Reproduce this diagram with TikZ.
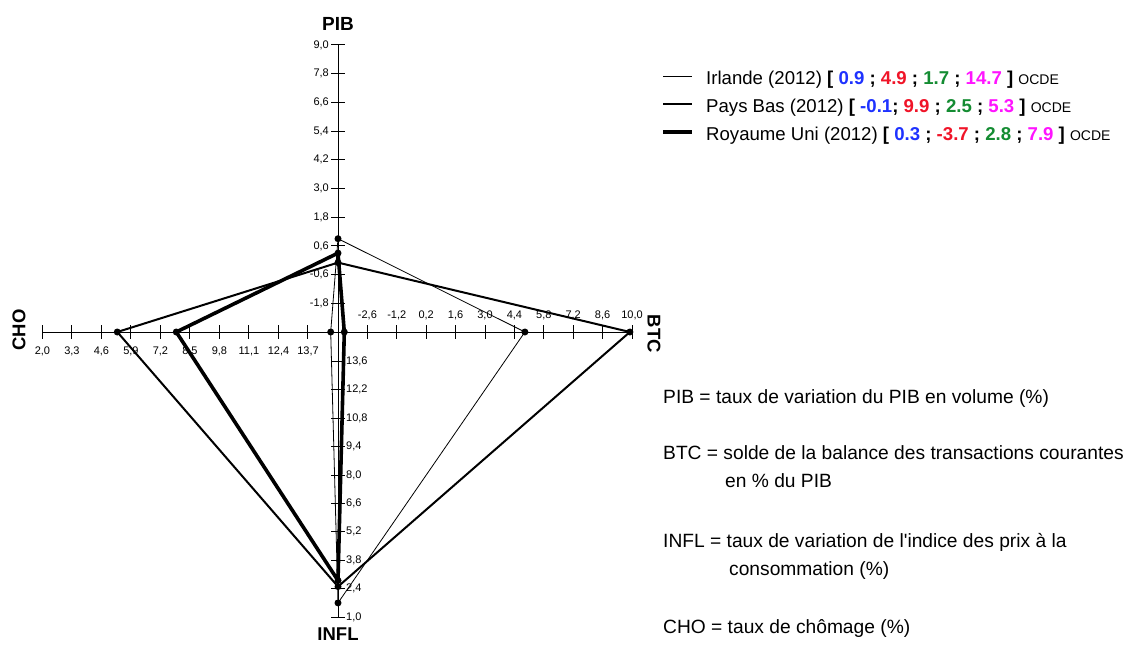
\documentclass[tikz,border=0pt]{standalone}
\usepackage{fontspec}
\setmainfont{Liberation Sans}
\newfontfamily\plainfont{Liberation Sans}
\definecolor{cblue}{RGB}{30,50,255}
\definecolor{cred}{RGB}{240,20,40}
\definecolor{cgreen}{RGB}{20,140,50}
\definecolor{cmag}{RGB}{255,20,255}
\begin{document}
\begin{tikzpicture}[x=1pt,y=-1pt,
  axis/.style={line width=1pt, black},
  ticklbl/.style={font=\fontsize{11}{12}\selectfont, inner sep=0pt},
  axlbl/.style={font=\bfseries\fontsize{18.5}{20}\selectfont, inner sep=0pt},
  txt/.style={font=\fontsize{19.2}{22}\selectfont, inner sep=0pt, anchor=base west},
  legtxt/.style={font=\fontsize{18.6}{22}\selectfont, inner sep=0pt, anchor=base west},
  thinl/.style={line width=0.8pt, line join=round},
  medl/.style={line width=2pt, line join=round},
  thickl/.style={line width=3.6pt, line join=round},
  dot/.style={circle, fill=black, inner sep=0pt, minimum size=7pt}]
\useasboundingbox (0,0) rectangle (1128,645);
\fill[white] (0,0) rectangle (1128,645);

% axes
\coordinate (ptop) at (338,45);
\coordinate (pbot) at (338,617);
\coordinate (cleft) at (42.4,332);
\coordinate (bright) at (632,332);
\draw[axis] (cleft) -- (bright);
\draw[axis] (ptop) -- (pbot);

% PIB ticks
\foreach \v/\l in {9.0/9{,}0, 7.8/7{,}8, 6.6/6{,}6, 5.4/5{,}4, 4.2/4{,}2, 3.0/3{,}0, 1.8/1{,}8, 0.6/0{,}6, -0.6/-0{,}6, -1.8/-1{,}8}{
  \pgfmathsetmacro\yy{332-(\v+3)*23.92}
  \draw[axis] (331,\yy) -- (345,\yy);
  \node[ticklbl, anchor=east] at (329,\yy) {\l};
}
% BTC ticks
\foreach \v/\l in {-2.6/-2{,}6, -1.2/-1{,}2, 0.2/0{,}2, 1.6/1{,}6, 3.0/3{,}0, 4.4/4{,}4, 5.8/5{,}8, 7.2/7{,}2, 8.6/8{,}6, 10.0/10{,}0}{
  \pgfmathsetmacro\xx{338+(\v+4)*21}
  \draw[axis] (\xx,325) -- (\xx,339);
  \node[ticklbl, anchor=south] at (\xx,320) {\l};
}
% CHO ticks
\foreach \v/\l in {2.0/2{,}0, 3.3/3{,}3, 4.6/4{,}6, 5.9/5{,}9, 7.2/7{,}2, 8.5/8{,}5, 9.8/9{,}8, 11.1/11{,}1, 12.4/12{,}4, 13.7/13{,}7}{
  \pgfmathsetmacro\xx{337.5-(15-\v)*22.7}
  \draw[axis] (\xx,325) -- (\xx,339);
  \node[ticklbl, anchor=north] at (\xx,347) {\l};
}
% INFL ticks
\foreach \v/\l in {13.6/13{,}6, 12.2/12{,}2, 10.8/10{,}8, 9.4/9{,}4, 8.0/8{,}0, 6.6/6{,}6, 5.2/5{,}2, 3.8/3{,}8, 2.4/2{,}4, 1.0/1{,}0}{
  \pgfmathsetmacro\yy{333+(15-\v)*20.29}
  \draw[axis] (331,\yy) -- (345,\yy);
  \node[ticklbl, anchor=west] at (346,\yy) {\l};
}

% axis labels
\node[axlbl, font=\bfseries\fontsize{19}{21}\selectfont] (lPIB) at (338,24) {PIB};
\node[axlbl, rotate=-90] (lBTC) at (654,334) {BTC};
\node[axlbl, rotate=90] (lCHO) at (19,330) {CHO};
\node[axlbl, anchor=north] (lINFL) at (338,628) {INFL};

% data points
\coordinate (irP) at (338,238.7);
\coordinate (irB) at (524.9,332);
\coordinate (irI) at (338,602.9);
\coordinate (irC) at (330.7,332);
\coordinate (pbP) at (338,262.6);
\coordinate (pbB) at (629.9,332);
\coordinate (pbI) at (338,586.6);
\coordinate (pbC) at (117.3,332);
\coordinate (ruP) at (338,253.1);
\coordinate (ruB) at (344.3,332);
\coordinate (ruI) at (338,580.5);
\coordinate (ruC) at (176.3,332);

\draw[thinl] (irP) -- (irB) -- (irI) -- (irC) -- cycle;
\draw[medl] (pbP) -- (pbB) -- (pbI) -- (pbC) -- cycle;
\draw[thickl] (ruP) -- (ruB) -- (ruI) -- (ruC) -- cycle;
\foreach \p in {irP,irB,irI,irC,pbP,pbB,pbI,pbC,ruP,ruB,ruI,ruC}
  \node[dot] at (\p) {};

% legend
\coordinate (l1a) at (663,76); \coordinate (l1b) at (692,76);
\coordinate (l2a) at (663,104); \coordinate (l2b) at (692,104);
\coordinate (l3a) at (663,132); \coordinate (l3b) at (692,132);
\draw[line width=1pt] (l1a) -- (l1b);
\draw[line width=2pt] (l2a) -- (l2b);
\draw[line width=4pt] (l3a) -- (l3b);
\node[legtxt] (t1) at (706,84) {Irlande (2012) {\bfseries[ \textcolor{cblue}{0.9} ; \textcolor{cred}{4.9} ; \textcolor{cgreen}{1.7} ; \textcolor{cmag}{14.7} ]} {\fontsize{14}{16}\selectfont OCDE}};
\node[legtxt] (t2) at (706,112) {Pays Bas (2012) {\bfseries[ \textcolor{cblue}{-0.1}; \textcolor{cred}{9.9} ; \textcolor{cgreen}{2.5} ; \textcolor{cmag}{5.3} ]} {\fontsize{14}{16}\selectfont OCDE}};
\node[legtxt] (t3) at (706,140) {Royaume Uni (2012) {\bfseries[ \textcolor{cblue}{0.3} ; \textcolor{cred}{-3.7} ; \textcolor{cgreen}{2.8} ; \textcolor{cmag}{7.9} ]} {\fontsize{14}{16}\selectfont OCDE}};

% definitions
\node[txt] (d1) at (663,403.5) {PIB = taux de variation du PIB en volume (\%)};
\node[txt] (d2) at (663,459) {BTC = solde de la balance des transactions courantes};
\node[txt] (d2b) at (725,487.5) {en \% du PIB};
\node[txt] (d3) at (663,547.5) {{\plainfont INFL = taux de variation de l'indice des prix à la}};
\node[txt] (d3b) at (729,575.5) {consommation (\%)};
\node[txt] (d4) at (663,633.5) {CHO = taux de chômage (\%)};
\end{tikzpicture}
\end{document}
